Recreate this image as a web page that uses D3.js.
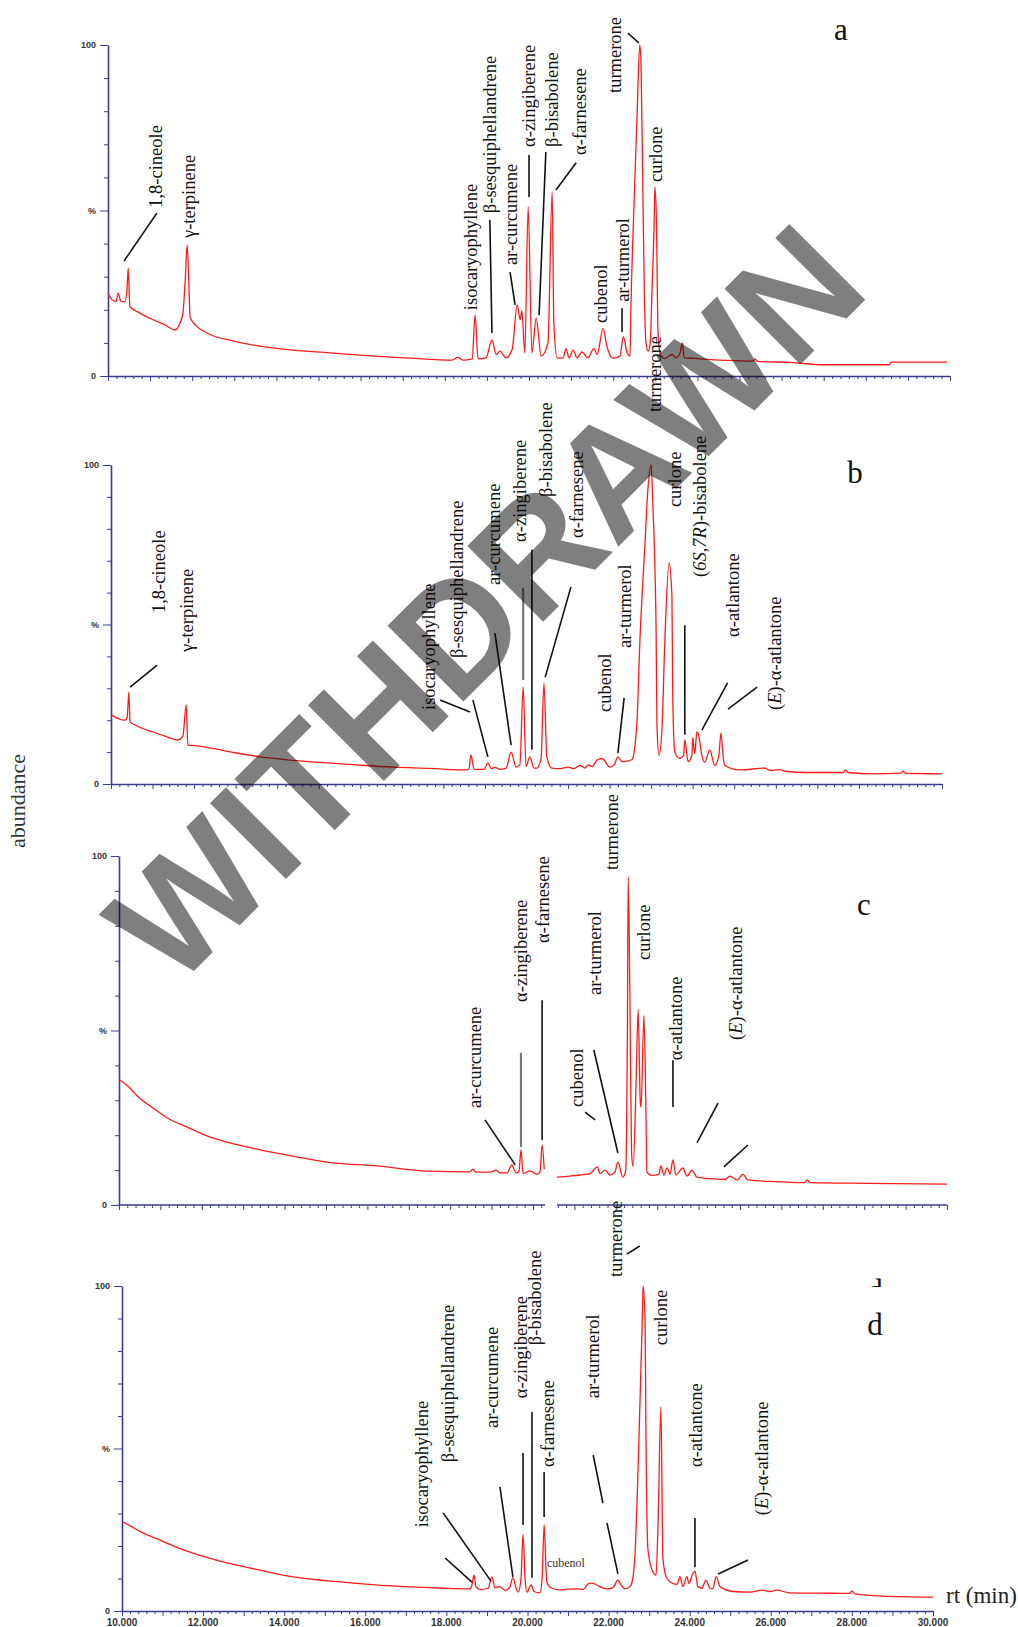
<!DOCTYPE html>
<html><head><meta charset="utf-8">
<script src="https://cdn.jsdelivr.net/npm/d3@7/dist/d3.min.js"></script>
<style>body{margin:0;background:#fff}svg{display:block}</style>
</head><body>
<svg id="chart" width="1018" height="1627"></svg>
<script>
// ---------- DATA (retention time in min, abundance in %) ----------
const traceA = [[10.00,25],[10.10,23],[10.19,22.5],[10.24,25],[10.31,22.5],[10.40,22.5],[10.45,26],[10.48,32.6],[10.52,21],[10.76,19],[11.07,17],[11.35,15.5],[11.59,13.9],[11.71,16],[11.78,19],[11.83,28],[11.88,39.6],[11.92,28],[11.95,17.8],[12.07,15.5],[12.35,13],[12.97,10.6],[13.61,9],[14.39,7.8],[15.27,7],[15.99,6.3],[17.17,5.4],[18.17,4.8],[18.31,5.6],[18.43,4.8],[18.65,5.2],[18.72,18.4],[18.79,5.2],[18.98,5.5],[19.12,10.9],[19.22,6.5],[19.31,7.5],[19.45,5.5],[19.60,8],[19.72,21.5],[19.79,17],[19.83,19.7],[19.90,7],[19.98,51.1],[20.07,7],[20.17,17.5],[20.29,6],[20.45,10],[20.55,55.6],[20.59,16],[20.67,5.4],[20.81,5.5],[20.88,8.3],[20.95,5.5],[21.05,7.8],[21.14,5.5],[21.26,7.3],[21.40,5.5],[21.54,8.3],[21.62,6.5],[21.76,14.4],[21.85,9],[22.00,5.4],[22.16,6],[22.24,11.9],[22.33,7],[22.40,6],[22.42,20],[22.49,50],[22.57,80],[22.63,100],[22.66,95],[22.70,60],[22.74,25],[22.78,10],[22.83,7.5],[22.88,10],[22.92,25],[22.97,45],[22.99,57.1],[23.03,45],[23.06,15],[23.11,7],[23.21,5.3],[23.40,6.5],[23.49,5.5],[23.59,7],[23.64,10],[23.69,5.5],[23.95,5.3],[24.23,5],[24.77,4.7],[25.32,4.5],[25.37,5.2],[25.42,4.4],[26.20,4.1],[26.98,3.4],[28.57,3.4],[28.60,4.2],[29.93,4.2]];

const traceB = [[10.02,21.6],[10.17,20.5],[10.34,20],[10.39,21],[10.43,28.8],[10.46,19.5],[10.58,18.5],[11.01,16.3],[11.30,15],[11.61,13.8],[11.73,15],[11.81,24.8],[11.85,12.2],[12.02,12],[12.38,11.3],[12.98,9.8],[13.59,8.5],[14.31,7.5],[15.20,6.6],[15.99,5.9],[16.79,5.3],[17.68,4.9],[18.57,4.4],[18.62,5],[18.66,9.1],[18.74,4.6],[18.98,4.6],[19.07,6.6],[19.15,4.8],[19.24,5.2],[19.36,4.6],[19.51,5],[19.63,10],[19.75,5.3],[19.84,6],[19.92,30.4],[19.99,5.5],[20.08,8.5],[20.18,5],[20.25,5],[20.35,8],[20.42,31.6],[20.49,8.5],[20.61,5],[20.81,4.8],[21.00,5.3],[21.14,4.8],[21.29,5.8],[21.41,5],[21.48,6],[21.58,5.5],[21.70,7.5],[21.82,8],[22.01,5.3],[22.11,6],[22.20,8.5],[22.30,7],[22.42,7.2],[22.54,7.7],[22.59,10],[22.66,20],[22.73,45],[22.85,75],[22.92,92],[23.00,100],[23.04,88],[23.12,47],[23.14,18],[23.19,9],[23.26,17],[23.33,45],[23.43,69.2],[23.50,59],[23.52,27],[23.57,10],[23.69,8],[23.78,9],[23.81,13.8],[23.89,7],[23.98,9],[24.00,14.5],[24.05,9.5],[24.10,16.3],[24.14,15.5],[24.22,9],[24.29,6.8],[24.41,10.7],[24.53,5.8],[24.63,9],[24.68,16],[24.73,9],[24.77,5.8],[25.14,4.4],[25.74,5],[25.86,4.2],[26.10,4.5],[26.22,4],[26.75,3.6],[27.62,3.6],[27.67,4.4],[27.74,3.6],[28.34,3.2],[29.01,3.4],[29.06,4.0],[29.13,3.3],[30.00,3.2]];

const traceCLeft = [[10.02,35.8],[10.22,34],[10.46,31],[10.82,27.8],[11.23,24.5],[11.64,22.4],[12.08,20],[12.61,18],[13.41,15.8],[14.20,14],[15.02,12.3],[16.23,11.2],[17.44,9.7],[18.48,9.5],[18.55,10.3],[18.62,9.4],[18.96,9.4],[19.11,10],[19.20,9.2],[19.37,9.2],[19.49,11.5],[19.59,9.2],[19.66,9.5],[19.71,15.8],[19.76,9.0],[19.93,9.8],[20.10,8.8],[20.17,9.5],[20.22,17.2],[20.27,10.3]];
const traceCRight = [[20.58,8.0],[20.89,8.3],[21.14,8.6],[21.38,9.0],[21.55,10.9],[21.62,9],[21.74,10],[21.86,8.6],[21.98,9.5],[22.05,12.3],[22.17,8.0],[22.24,10],[22.28,50],[22.30,94],[22.34,60],[22.38,15],[22.42,11],[22.49,35],[22.54,56],[22.59,30],[22.61,28],[22.68,54.3],[22.73,25],[22.75,9.5],[22.87,8.5],[23.04,8.8],[23.09,11.2],[23.16,8.6],[23.24,10.6],[23.31,8.8],[23.38,12.9],[23.45,8.6],[23.62,10.6],[23.72,8.3],[23.84,10],[23.96,8],[24.35,7.5],[24.64,7.3],[24.76,8.3],[24.93,7.2],[25.07,8.8],[25.19,7.2],[26.04,6.6],[26.55,6.4],[26.62,7.2],[26.69,6.4],[28.07,6.2],[30.00,6.0]];

const traceD = [[10.02,27.4],[10.20,26.2],[10.44,24.5],[10.94,21.8],[11.31,19.8],[11.75,17.8],[12.17,16.2],[12.59,14.8],[13.40,12.6],[14.22,10.5],[15.45,8.9],[16.68,7.7],[17.92,7.0],[18.58,6.8],[18.63,8],[18.68,11],[18.73,7.5],[18.83,6.6],[19.03,7],[19.12,10.5],[19.20,7.2],[19.32,7.5],[19.45,6.3],[19.57,7.5],[19.64,10.3],[19.72,7],[19.77,5.8],[19.84,10],[19.89,23.6],[19.94,10],[19.99,5.8],[20.09,8],[20.16,6],[20.31,5.6],[20.36,10],[20.41,26.5],[20.46,12],[20.48,8.7],[20.60,7],[20.80,6.5],[20.97,6.7],[21.22,6.8],[21.37,6.6],[21.49,8.3],[21.59,8.6],[21.71,8.0],[21.84,7.2],[21.96,6.8],[22.11,7.2],[22.23,9.5],[22.31,8],[22.40,6.8],[22.53,7.5],[22.58,9],[22.65,17],[22.73,45],[22.83,89],[22.85,100],[22.90,89],[22.92,56],[22.97,19],[23.09,12],[23.17,11],[23.22,27],[23.29,62.8],[23.34,16],[23.44,10],[23.59,8.4],[23.69,8.2],[23.76,10.6],[23.83,7.5],[23.93,10.6],[23.98,8.5],[24.06,11],[24.13,12.3],[24.20,7.5],[24.30,7.0],[24.40,9.5],[24.50,7],[24.57,6.8],[24.65,10.6],[24.75,7.5],[25.07,6],[25.49,5.8],[25.78,6.4],[25.98,6],[26.15,6.4],[26.47,5.6],[27.21,5.5],[27.95,5.4],[28.00,6.2],[28.08,5.3],[28.77,4.6],[30.00,4.3]];

// peak labels: [text, rt at text bottom, abundance at text bottom]
const labelsA = [["1,8-cineole",11.14,50.8],["γ-terpinene",11.92,41.7],["isocaryophyllene",18.62,19.9],["β-sesquiphellandrene",19.07,49.2],["ar-curcumene",19.57,33.5],["α-zingiberene",20.0,69.2],["β-bisabolene",20.55,69.2],["α-farnesene",21.21,66.8],["cubenol",21.71,16.0],["ar-turmerol",22.23,22.4],["turmerone",22.04,85.5],["curlone",23.02,58.6]];
const labelsB = [["1,8-cineole",11.16,53.6],["γ-terpinene",11.83,41.4],["isocaryophyllene",17.65,23.2],["β-sesquiphellandrene",18.33,39.5],["ar-curcumene",19.22,62.4],["α-zingiberene",19.84,75.9],["β-bisabolene",20.47,90.0],["α-farnesene",21.22,77.1],["cubenol",21.89,22.6],["ar-turmerol",22.37,42.6],["turmerone",23.09,116.6],["curlone",23.57,86.8],["(<i>6S</i>,<i>7R</i>)-bisabolene",24.18,64.9],["α-atlantone",24.97,46.1],["(<i>E</i>)-α-atlantone",25.98,23.2]];
const labelsC = [["ar-curcumene",18.60,27.8],["α-zingiberene",19.71,58.2],["α-farnesene",20.24,75.1],["cubenol",21.06,28.1],["ar-turmerol",21.50,60.2],["turmerone",21.91,96.0],["curlone",22.68,70.2],["α-atlantone",23.45,41.5],["(<i>E</i>)-α-atlantone",24.90,47.3]];
const labelsD = [["isocaryophyllene",17.40,25.8],["β-sesquiphellandrene",18.04,45.8],["ar-curcumene",19.12,56.3],["α-zingiberene",19.84,65.5],["β-bisabolene",20.18,81.8],["α-farnesene",20.51,44.3],["ar-turmerol",21.62,65.5],["turmerone",22.18,102.8],["curlone",23.29,81.8],["α-atlantone",24.16,44.3],["(<i>E</i>)-α-atlantone",25.78,29.5]];
const smallLabelsD = [["cubenol",20.48,13.5]];

// leader lines: [rt1, ab1, rt2, ab2]
const leadersA = [[11.16,49.2,10.38,34.7],[19.07,47.1,19.12,13.0],[19.55,31.4,19.67,21.5],[20.0,66.8,20.0,54.1],[20.40,67.7,20.24,18.4],[21.12,64.4,20.64,56.2],[22.21,20.5,22.21,13.3],[22.35,103.6,22.61,100.6]];
const leadersB = [[11.11,37.3,10.46,30.4],[17.92,26.3,18.64,22.6],[18.71,26.3,19.07,8.5],[19.24,47.3,19.63,12.2],[19.92,61.4,19.92,32.6],[20.13,73.4,20.13,10.7],[21.07,61.8,20.45,33.5],[22.35,27.0,22.20,9.7],[23.81,49.8,23.81,15.4],[24.84,31.7,24.22,16.9],[25.55,30.4,24.85,23.5]];
const leadersC = [[18.84,24.4,19.57,11.5],[19.71,43.6,19.71,16.6],[20.22,58.7,20.22,18.6],[21.26,26.6,21.50,24.4],[21.47,44.4,22.05,14.9],[23.38,41.5,23.38,28.1],[24.47,29.2,23.96,17.8],[25.19,17.2,24.61,10.9]];
const leadersD = [[17.97,16.3,18.63,8.9],[17.92,30.2,19.10,9.2],[19.32,38.2,19.64,10.5],[19.89,48.6,19.89,26.5],[20.11,61.2,20.11,10.2],[20.41,42.8,20.41,28.9],[21.62,48.0,21.86,33.2],[21.96,27.1,22.23,11.4],[22.45,109.8,22.77,112.3],[24.13,28.6,24.13,13.5],[25.44,15.7,24.70,11.4]];

const panelLetters = ["a","b","c","d"];
const xDomain = [10, 30];
const yDomain = [0, 100];
const yTickValues = [0,10,20,30,40,50,60,70,80,90,100];
const yTickText = {0:"0", 50:"%", 100:"100"};
const xLabelValues = [10,12,14,16,18,20,22,24,26,28,30];
const axisTitleY = "abundance";
const axisTitleX = "rt (min)";
const watermark = "WITHDRAWN";

// ---------- LAYOUT ----------
const svg = d3.select("#chart");
const AXIS = "#3b3b8e";
const SERIF = "'Liberation Serif','Times New Roman',serif";
const SANS = "'Liberation Sans',Arial,sans-serif";

const panels = [
  {traces:[traceA], labels:labelsA, leaders:leadersA, gray:[], px:[108,950], py:[376,45], letter:[841,40]},
  {traces:[traceB], labels:labelsB, leaders:leadersB, gray:[4], px:[111,942], py:[784,465], letter:[855,483]},
  {traces:[traceCLeft,traceCRight], labels:labelsC, leaders:leadersC, gray:[1], px:[119,947], py:[1205,856], letter:[864,915], gap:[20.29,20.58]},
  {traces:[traceD], labels:labelsD, leaders:leadersD, gray:[], px:[122,933], py:[1611,1286], letter:[875,1335], xLabels:true, small:smallLabelsD}
];

const minorTicks = d3.range(0, 101).map(i => 10 + i / 5);

function rich(sel, str) {
  str.split(/(<i>.*?<\/i>)/).forEach(s => {
    if (!s) return;
    const it = s.startsWith("<i>");
    sel.append("tspan").attr("font-style", it ? "italic" : null).text(it ? s.slice(3, -4) : s);
  });
}

panels.forEach((p, pi) => {
  const x = d3.scaleLinear().domain(xDomain).range(p.px);
  const y = d3.scaleLinear().domain(yDomain).range(p.py);
  const g = svg.append("g");

  // x axis
  let tv = minorTicks;
  if (p.gap) tv = tv.filter(t => t < p.gap[0] || t > p.gap[1]);
  const gx = g.append("g").attr("transform", `translate(0,${p.py[0]})`)
    .call(d3.axisBottom(x).tickValues(tv).tickSizeOuter(0).tickFormat(""));
  gx.selectAll(".tick line").attr("stroke", AXIS).attr("stroke-width", 1)
    .attr("y2", d => Math.abs(d - Math.round(d)) < 1e-6 ? 5 : 3);
  gx.select(".domain").attr("stroke", AXIS).attr("stroke-width", 1.6);
  if (p.gap) {
    gx.select(".domain").remove();
    [[xDomain[0], p.gap[0]], [p.gap[1], xDomain[1]]].forEach(s =>
      gx.append("line").attr("x1", x(s[0])).attr("x2", x(s[1])).attr("y1", 0).attr("y2", 0)
        .attr("stroke", AXIS).attr("stroke-width", 1.6));
  }
  if (p.xLabels) {
    g.selectAll(".xl").data(xLabelValues).enter().append("text")
      .attr("x", d => x(d)).attr("y", p.py[0] + 15).attr("text-anchor", "middle")
      .attr("font-family", SANS).attr("font-weight", "bold").attr("font-size", 10).attr("fill", "#333")
      .text(d => d3.format(".3f")(d));
  }

  // y axis
  const gy = g.append("g").attr("transform", `translate(${p.px[0]},0)`)
    .call(d3.axisLeft(y).tickValues(yTickValues).tickSize(4).tickSizeOuter(0).tickPadding(8)
      .tickFormat(d => yTickText[d] || ""));
  gy.select(".domain").attr("stroke", AXIS).attr("stroke-width", 1.6);
  gy.selectAll(".tick line").attr("stroke", AXIS).attr("x2", d => yTickText[d] ? -8 : -4);
  gy.selectAll(".tick text").attr("font-family", SANS).attr("font-weight", "bold")
    .attr("font-size", 9).attr("fill", "#333");

  // traces
  const line = d3.line().x(d => x(d[0])).y(d => y(d[1])).curve(d3.curveMonotoneX);
  p.traces.forEach(t => g.append("path").attr("d", line(t)).attr("fill", "none")
    .attr("stroke", "#ff1a1a").attr("stroke-width", 1.3).attr("stroke-linejoin", "round"));

  // peak labels
  p.labels.forEach(l => {
    const t = g.append("text")
      .attr("transform", `translate(${x(l[1])},${y(l[2])}) rotate(-90)`)
      .attr("dy", "0.33em").attr("font-family", SERIF).attr("font-size", 18.5).attr("fill", "#111");
    rich(t, l[0]);
  });
  (p.small || []).forEach(l => g.append("text").attr("x", x(l[1])).attr("y", y(l[2]))
    .attr("font-family", SERIF).attr("font-size", 12).attr("fill", "#333").text(l[0]));

  // leaders
  p.leaders.forEach((l, i) => {
    const gr = p.gray.includes(i);
    g.append("line").attr("x1", x(l[0])).attr("y1", y(l[1])).attr("x2", x(l[2])).attr("y2", y(l[3]))
      .attr("stroke", gr ? "#7a7a7a" : "#111").attr("stroke-width", gr ? 2.2 : 1.6);
  });

  // panel letter
  g.append("text").attr("x", p.letter[0]).attr("y", p.letter[1]).attr("text-anchor", "middle")
    .attr("font-family", SERIF).attr("font-size", 31).attr("fill", "#111").text(panelLetters[pi]);
});

// clipped duplicate letter above panel d
svg.append("clipPath").attr("id", "dclip").append("rect").attr("x", 850).attr("y", 1270).attr("width", 60).attr("height", 17);
svg.append("text").attr("x", 875).attr("y", 1301).attr("text-anchor", "middle").attr("clip-path", "url(#dclip)")
  .attr("font-family", SERIF).attr("font-size", 31).attr("fill", "#111").text(panelLetters[3]);

// axis titles
svg.append("text").attr("transform", "translate(18,801) rotate(-90)").attr("text-anchor", "middle")
  .attr("dy", "0.33em").attr("font-family", SERIF).attr("font-size", 22).attr("fill", "#333").text(axisTitleY);
svg.append("text").attr("x", 946).attr("y", 1603).attr("font-family", SERIF).attr("font-size", 23)
  .attr("fill", "#222").text(axisTitleX);

// watermark
svg.append("text").attr("transform", "translate(484,602) rotate(-45)").attr("text-anchor", "middle")
  .attr("dy", "0.358em").attr("font-family", SANS).attr("font-weight", "bold").attr("font-size", 156)
  .attr("fill", "#000").attr("fill-opacity", 0.5).text(watermark);
</script>
</body></html>
